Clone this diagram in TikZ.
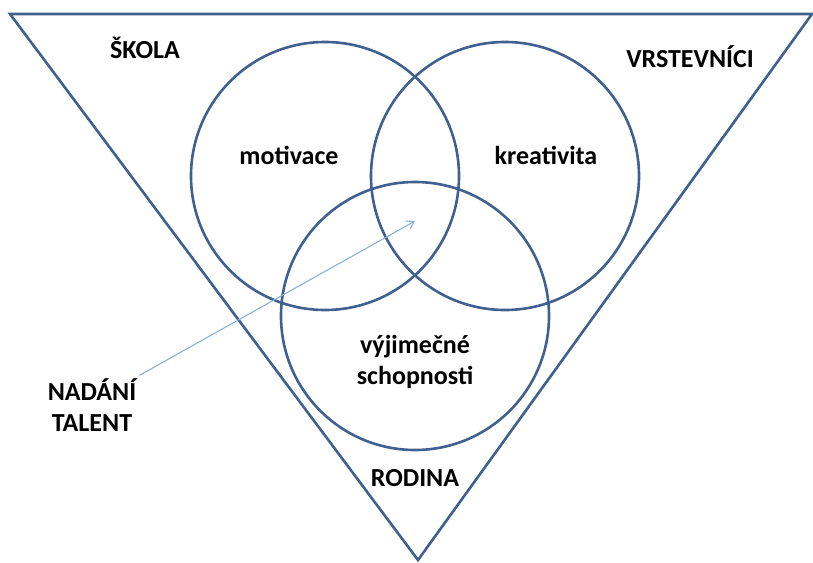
\documentclass[tikz,border=0pt]{standalone}
\usepackage{fontspec}
\setmainfont{Carlito}
\usetikzlibrary{arrows.meta,positioning}
\definecolor{edgeblue}{HTML}{40608F}
\definecolor{arrowblue}{HTML}{8AB0D8}

\begin{document}
\begin{tikzpicture}[
  x=1pt, y=-1pt,
  ring/.style={circle, draw=edgeblue, line width=2.6pt, minimum size=268pt, inner sep=0pt},
  word/.style={font=\fontsize{26}{31}\selectfont\bfseries, align=center, inner sep=1pt},
  arr/.style={-{Straight Barb[length=7pt,width=9pt]}, draw=arrowblue, line width=1.1pt}
]
\useasboundingbox (0,0) rectangle (813,562);

% Triangle
\coordinate (tl) at (10,14);
\coordinate (tr) at (812,14);
\coordinate (apex) at (418,560);
\draw[edgeblue, line width=2.6pt, line join=miter] (tl) -- (tr) -- (apex) -- cycle;

% Circles
\node[ring] (left) at (325,176) {};
\node[ring] (right) at (505,176) {};
\node[ring] (bottom) at (415,316) {};

% Labels
\node[word] (motiv) at (289,155) {motivace};
\node[word] (kreat) at (546,155) {kreativita};
\node[word] (schop) at (415,362) {výjimečné\\schopnosti};
\node[word] (skola) at (145,48) {ŠKOLA};
\node[word] (vrst) at (690,57) {VRSTEVNÍCI};
\node[word] (rodina) at (415,478) {RODINA};
\node[word] (talent) at (92,405) {NADÁNÍ\\TALENT};

% Arrow
\coordinate (tip) at (415,221);
\draw[arr] (talent.north east) ++(2,-2) -- (tip);

\end{tikzpicture}
\end{document}
